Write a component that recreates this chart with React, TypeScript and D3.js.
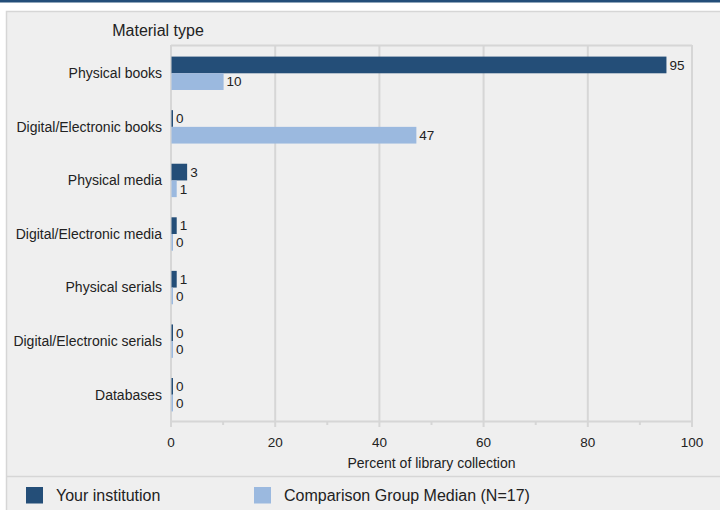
import React, { useEffect, useRef } from "react";
import * as d3 from "d3";

const categories = [
  "Physical books",
  "Digital/Electronic books",
  "Physical media",
  "Digital/Electronic media",
  "Physical serials",
  "Digital/Electronic serials",
  "Databases",
];
const yourInstitution = [95, 0, 3, 1, 1, 0, 0];
const comparisonMedian = [10, 47, 1, 0, 0, 0, 0];
const xTicks = [0, 20, 40, 60, 80, 100];
const minorTicks = [10, 30, 50, 70, 90];
const seriesNames = ["Your institution", "Comparison Group Median (N=17)"];
const seriesColors = ["#244e78", "#9bb9df"];

const W = 720;
const H = 510;
const FONT = "'Liberation Sans', Arial, sans-serif";

export default function App() {
  const ref = useRef<SVGSVGElement>(null);

  useEffect(() => {
    const svg = d3.select(ref.current);
    svg.selectAll("*").remove();

    // top blue line
    svg.append("rect").attr("x", 0).attr("y", 0).attr("width", W).attr("height", 2.5).attr("fill", "#234e79");
    // panel
    svg.append("rect").attr("x", 6.5).attr("y", 11.5).attr("width", W).attr("height", H).attr("fill", "#efefef").attr("stroke", "#d6d6d6").attr("stroke-width", 1.5);

    const x = d3.scaleLinear().domain([0, 100]).range([171, 692]);
    const y = d3.scaleBand().domain(categories).range([46.5, 421.5]);
    const barH = 16.7;

    const g = svg.append("g");

    // gridlines & frame
    const gridColor = "#d6d6d6";
    g.append("line").attr("x1", x(0)).attr("x2", x(100)).attr("y1", 45.5).attr("y2", 45.5).attr("stroke", gridColor).attr("stroke-width", 2);
    xTicks.forEach((t) => {
      g.append("line").attr("x1", x(t)).attr("x2", x(t)).attr("y1", 45).attr("y2", 427).attr("stroke", gridColor).attr("stroke-width", 2);
    });
    minorTicks.forEach((t) => {
      g.append("line").attr("x1", x(t)).attr("x2", x(t)).attr("y1", 421).attr("y2", 425).attr("stroke", gridColor).attr("stroke-width", 2);
    });
    g.append("line").attr("x1", x(0) - 1).attr("x2", x(100) + 1).attr("y1", 421.5).attr("y2", 421.5).attr("stroke", gridColor).attr("stroke-width", 2);

    // tick labels
    g.selectAll(".tick")
      .data(xTicks)
      .enter()
      .append("text")
      .attr("x", (d) => x(d))
      .attr("y", 447)
      .attr("text-anchor", "middle")
      .attr("font-size", 13.5)
      .attr("font-family", FONT)
      .attr("fill", "#222")
      .text((d) => String(d));

    // axis title
    g.append("text")
      .attr("x", (x(0) + x(100)) / 2)
      .attr("y", 468)
      .attr("text-anchor", "middle")
      .attr("font-size", 14)
      .attr("font-family", FONT)
      .attr("fill", "#222")
      .text("Percent of library collection");

    // chart title
    g.append("text")
      .attr("x", 158)
      .attr("y", 36)
      .attr("text-anchor", "middle")
      .attr("font-size", 16)
      .attr("font-family", FONT)
      .attr("fill", "#222")
      .text("Material type");

    // category labels
    g.selectAll(".cat")
      .data(categories)
      .enter()
      .append("text")
      .attr("x", 162)
      .attr("y", (d) => (y(d) as number) + y.bandwidth() / 2)
      .attr("dy", "0.35em")
      .attr("text-anchor", "end")
      .attr("font-size", 14)
      .attr("font-family", FONT)
      .attr("fill", "#222")
      .text((d) => d);

    const series = [yourInstitution, comparisonMedian];
    series.forEach((vals, si) => {
      const top = (i: number) => (y(categories[i]) as number) + y.bandwidth() / 2 - barH + si * barH;
      const w = (v: number) => Math.max(x(v) - x(0), 1.5);
      g.selectAll(".bar" + si)
        .data(vals)
        .enter()
        .append("rect")
        .attr("x", x(0) + 0.5)
        .attr("y", (_, i) => top(i))
        .attr("width", (d) => w(d))
        .attr("height", barH)
        .attr("fill", seriesColors[si]);
      g.selectAll(".lab" + si)
        .data(vals)
        .enter()
        .append("text")
        .attr("x", (d) => x(0) + 0.5 + w(d) + 3)
        .attr("y", (_, i) => top(i) + barH / 2)
        .attr("dy", "0.35em")
        .attr("font-size", 13.5)
        .attr("font-family", FONT)
        .attr("fill", "#222")
        .text((d) => String(d));
    });

    // legend separator
    svg.append("line").attr("x1", 6.5).attr("x2", W).attr("y1", 476.5).attr("y2", 476.5).attr("stroke", "#d6d6d6").attr("stroke-width", 1.5);
    const legendX = [26, 254];
    seriesNames.forEach((name, i) => {
      svg.append("rect").attr("x", legendX[i]).attr("y", 487).attr("width", 17).attr("height", 16.5).attr("fill", seriesColors[i]);
      svg.append("text")
        .attr("x", legendX[i] + 30)
        .attr("y", 495)
        .attr("dy", "0.35em")
        .attr("font-size", 16)
        .attr("font-family", FONT)
        .attr("fill", "#222")
        .text(name);
    });
  }, []);

  return (
    <svg
      ref={ref}
      width={W}
      height={H}
      style={{ position: "fixed", left: 0, top: 0, background: "#fff", display: "block" }}
    />
  );
}
